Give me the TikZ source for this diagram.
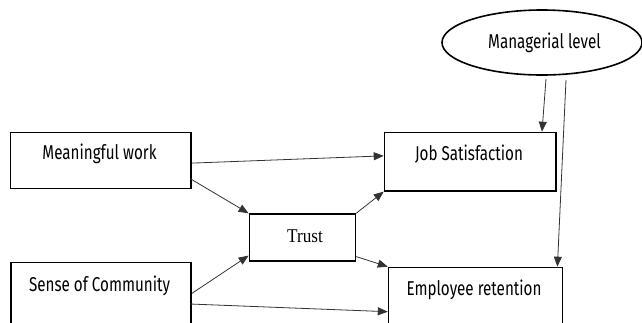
\documentclass[tikz,border=0pt]{standalone}
\usepackage{fontspec}
\setmainfont{Liberation Serif}
\newfontfamily\boxfont[FakeStretch=0.76]{Fira Sans}
\newfontfamily\trustfont[FakeStretch=0.88]{Liberation Serif}
\usetikzlibrary{arrows.meta,shapes.geometric}

\begin{document}
\begin{tikzpicture}[x=1pt,y=-1pt,
  construct/.style={draw=black,line width=1.6pt,rectangle,inner sep=0pt,anchor=north west},
  moderator/.style={draw=black,line width=1.6pt,ellipse,inner sep=0pt,
    minimum width=200pt,minimum height=65pt},
  caption/.style={font=\boxfont\fontsize{20}{23}\selectfont,text=black},
  path/.style={draw=black!80,line width=0.8pt,-{Triangle[length=10pt,width=8pt]}}]

\clip (0,0) rectangle (642,322);

% moderator
\node[moderator] (ml) at (542,42.5) {};
\node[caption] (mlt) at (544.5,42.5) {Managerial level};

% independent variables
\node[construct,minimum width=180.6pt,minimum height=56pt] (mw) at (9.8,131.7) {};
\node[caption] (mwt) at (99.5,154) {Meaningful work};

\node[construct,minimum width=180.2pt,minimum height=90pt] (soc) at (10.2,261.7) {};
\node[caption] (soct) at (99.5,285.7) {Sense of Community};

% mediator
\node[construct,minimum width=106pt,minimum height=46.7pt] (tr) at (248.6,213.3) {};
\node[font=\trustfont\fontsize{19.5}{22}\selectfont] (trt) at (305,236) {Trust};

% outcomes
\node[construct,minimum width=171.2pt,minimum height=58.3pt] (js) at (383.7,131.7) {};
\node[caption] (jst) at (469,154) {Job Satisfaction};

\node[construct,minimum width=174pt,minimum height=90pt] (er) at (387.8,266.7) {};
\node[caption] (ert) at (474,290) {Employee retention};

% paths
\draw[path] ([xshift=4pt,yshift=-3pt]ml.south) -- ([xshift=-14.5pt]js.north east);
\draw[path] ([xshift=24pt,yshift=-4pt]ml.south) -- ([xshift=-6pt]er.north east);
\draw[path] ([yshift=-2.6pt]mw.east) -- ([yshift=5.8pt]js.west);
\draw[path] ([xshift=-2pt,yshift=-18pt]mw.east) -- (tr.north west);
\draw[path] (tr.north east) -- (js.south west);
\draw[path] ([yshift=-31.6pt]soc.north east) -- ([yshift=6pt]tr.south west);
\draw[path] ([yshift=5pt]tr.south east) -- (er.north west);
\draw[path] ([xshift=-2pt,yshift=-42.3pt]soc.north east) -- ([yshift=-45pt]er.north west);
\end{tikzpicture}
\end{document}
